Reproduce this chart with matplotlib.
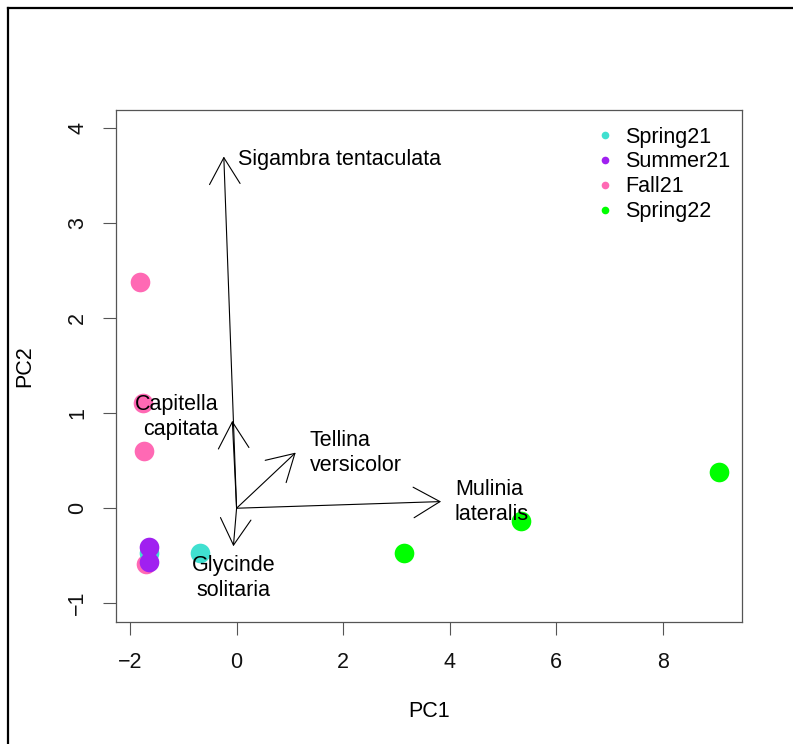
import numpy as np
import matplotlib
matplotlib.use("Agg")
import matplotlib.pyplot as plt
from matplotlib.lines import Line2D
from matplotlib.patches import FancyArrowPatch, ArrowStyle

plt.rcParams['font.family'] = ['Liberation Sans', 'DejaVu Sans']

# sample scores on the first two components (drawn in this order)
sample_season = ["Fall21", "Fall21", "Fall21", "Fall21",
                 "Spring21", "Spring21",
                 "Summer21", "Summer21",
                 "Spring22", "Spring22", "Spring22"]
sample_pc1 = [-1.82, -1.76, -1.74, -1.71, -1.65, -0.69, -1.64, -1.64, 3.15, 5.34, 9.06]
sample_pc2 = [2.38, 1.11, 0.60, -0.59, -0.47, -0.475, -0.405, -0.563, -0.47, -0.13, 0.38]

# legend order and colours
seasons = ["Spring21", "Summer21", "Fall21", "Spring22"]
season_colors = ["#40E0D0", "#A020F0", "#FF69B4", "#00FF00"]

# species loadings (arrow tips)
species = ["Sigambra tentaculata", "Capitella\ncapitata", "Tellina\nversicolor",
           "Glycinde\nsolitaria", "Mulinia\nlateralis"]
load_pc1 = [-0.24, -0.08, 1.11, -0.06, 3.84]
load_pc2 = [3.70, 0.92, 0.585, -0.40, 0.07]
# which side of the tip the label goes on
label_side = ["right", "left", "right", "below", "right"]

x_ticks = [-2, 0, 2, 4, 6, 8]
y_ticks = [-1, 0, 1, 2, 3, 4]

FS = 15.5
side_style = {
    "right": dict(xytext=(10, 0), ha="left", va="center"),
    "left": dict(xytext=(-10, 3), ha="right", va="center"),
    "below": dict(xytext=(0, -6), ha="center", va="top"),
}

fig = plt.figure(figsize=(7.93, 7.44), dpi=100)
ax = fig.add_axes([0.1459, 0.1636, 0.7904, 0.6886])
ax.set_xlim(-2.27, 9.50)
ax.set_ylim(-1.20, 4.19)

col = dict(zip(seasons, season_colors))
for x, y, s in zip(sample_pc1, sample_pc2, sample_season):
    ax.scatter(x, y, s=200, color=col[s], linewidths=0, zorder=2)

head = ArrowStyle("->", head_length=19.0, head_width=11.0)
for name, x, y, side in zip(species, load_pc1, load_pc2, label_side):
    arr = FancyArrowPatch((0, 0), (x, y), arrowstyle=head, mutation_scale=1,
                          shrinkA=0, shrinkB=0, lw=0.8, color="black", zorder=3)
    ax.add_patch(arr)
    st = side_style[side]
    if "\n" not in name:
        st = dict(st, xytext=(st["xytext"][0], -2))
    ax.annotate(name, (x, y), textcoords="offset points", fontsize=FS,
                linespacing=1.25, **st)

ax.set_xticks(x_ticks)
ax.set_yticks(y_ticks)
ax.tick_params(axis="both", length=9.4, width=0.8, color="#555555",
               labelsize=FS, labelcolor="#111111")
ax.tick_params(axis="x", pad=12)
ax.tick_params(axis="y", pad=10.5)
for lbl in ax.get_yticklabels():
    lbl.set_rotation(90)
    lbl.set_va("center")
for sp in ax.spines.values():
    sp.set_color("#555555")
    sp.set_linewidth(0.9)

ax.set_xlabel("PC1", fontsize=FS)
ax.set_ylabel("PC2", fontsize=FS)
ax.xaxis.label.set_va("center")
ax.yaxis.label.set_va("center")
ax.xaxis.set_label_coords(0.5, (622.3 - 712) / 512.3)
ax.yaxis.set_label_coords((25 - 115.7) / 626.8, 0.5)

handles = [Line2D([], [], marker="o", linestyle="none", markersize=5.5,
                  markerfacecolor=c, markeredgewidth=0) for c in season_colors]
ax.legend(handles, seasons, loc="upper right", bbox_to_anchor=(1.005, 0.997),
          frameon=False, borderaxespad=0, borderpad=0.7, fontsize=FS,
          handlelength=0.8, handletextpad=0.55, labelspacing=0.18)

# frame around the figure (top and left edges)
fig.add_artist(Line2D([0.0095, 0.0095], [0.0, 0.9886], transform=fig.transFigure,
                      color="black", lw=1.6))
fig.add_artist(Line2D([0.0095, 1.0], [0.9886, 0.9886], transform=fig.transFigure,
                      color="black", lw=1.6))

fig.savefig("out.png", dpi=100)
